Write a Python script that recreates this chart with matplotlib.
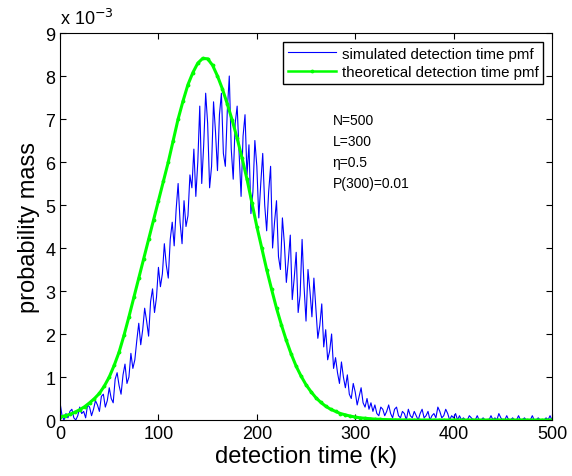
import numpy as np
from matplotlib import pyplot as plt
from matplotlib.ticker import FuncFormatter

plt.rcParams['font.family'] = ['Liberation Sans', 'DejaVu Sans']

# simulated pmf, every 2 k (units of 1e-3)
simK = np.arange(0, 501, 2)
simVal = [
    0.40, 0.10, 0.00, 0.15, 0.05, 0.20, 0.25, 0.05, 0.00, 0.10,
    0.30, 0.15, 0.20, 0.05, 0.35, 0.30, 0.10, 0.25, 0.45, 0.35,
    0.20, 0.55, 0.60, 0.30, 0.45, 0.75, 0.50, 0.40, 0.95, 1.10,
    0.80, 0.60, 1.05, 1.30, 0.85, 1.00, 1.55, 1.20, 1.40, 1.85,
    2.25, 1.75, 2.10, 2.60, 2.30, 1.95, 2.75, 3.05, 2.50, 2.85,
    3.55, 3.10, 3.40, 4.10, 3.60, 3.30, 4.20, 4.60, 4.05, 4.90,
    5.50, 4.60, 4.10, 5.10, 4.50, 4.75, 5.70, 5.40, 6.30, 5.20,
    6.00, 7.30, 5.50, 6.40, 7.60, 6.90, 5.40, 5.90, 7.40, 6.70,
    5.80, 7.10, 7.60, 6.20, 5.90, 7.20, 8.00, 6.30, 5.60, 6.90,
    7.30, 6.20, 5.20, 6.60, 7.10, 5.70, 6.40, 4.80, 5.30, 6.50,
    5.90, 4.70, 5.50, 6.20, 5.00, 4.40, 5.30, 5.90, 4.00, 4.60,
    5.10, 3.80, 3.50, 4.70, 4.10, 3.20, 3.70, 4.30, 2.80, 3.30,
    3.90, 2.50, 2.90, 4.20, 3.10, 2.30, 3.50, 3.00, 2.40, 3.30,
    2.60, 1.90, 2.20, 2.70, 1.70, 2.10, 1.40, 1.60, 2.00, 1.20,
    1.45, 1.10, 0.85, 1.35, 1.00, 0.75, 1.05, 0.60, 0.50, 0.85,
    0.65, 0.35, 0.55, 0.75, 0.40, 0.30, 0.50, 0.25, 0.40, 0.20,
    0.35, 0.15, 0.10, 0.30, 0.25, 0.10, 0.20, 0.35, 0.15, 0.05,
    0.25, 0.30, 0.10, 0.05, 0.20, 0.15, 0.00, 0.25, 0.10, 0.05,
    0.20, 0.10, 0.00, 0.15, 0.25, 0.05, 0.10, 0.20, 0.00, 0.10,
    0.15, 0.05, 0.30, 0.20, 0.05, 0.10, 0.25, 0.15, 0.00, 0.10,
    0.05, 0.15, 0.00, 0.10, 0.00, 0.05, 0.00, 0.00, 0.10, 0.05,
    0.00, 0.00, 0.10, 0.00, 0.00, 0.05, 0.00, 0.00, 0.00, 0.10,
    0.00, 0.05, 0.00, 0.15, 0.05, 0.00, 0.00, 0.10, 0.00, 0.00,
    0.05, 0.00, 0.00, 0.10, 0.00, 0.00, 0.05, 0.00, 0.00, 0.00,
    0.10, 0.00, 0.00, 0.05, 0.00, 0.00, 0.00, 0.05, 0.00, 0.10,
    0.00,
]

# theoretical pmf, every 5 k (units of 1e-3)
theoK = np.arange(0, 501, 5)
theoVal = [
    0.07, 0.10, 0.13, 0.18, 0.24, 0.31, 0.40, 0.50, 0.62, 0.79,
    1.00, 1.27, 1.58, 1.97, 2.40, 2.85, 3.30, 3.75, 4.20, 4.65,
    5.10, 5.55, 6.00, 6.50, 7.00, 7.42, 7.80, 8.08, 8.30, 8.41,
    8.40, 8.25, 8.00, 7.70, 7.35, 6.97, 6.55, 6.09, 5.60, 5.05,
    4.50, 4.00, 3.50, 3.04, 2.60, 2.21, 1.85, 1.53, 1.25, 1.02,
    0.82, 0.66, 0.52, 0.41, 0.32, 0.25, 0.20, 0.15, 0.12, 0.09,
    0.07, 0.05, 0.04, 0.03, 0.02, 0.015, 0.01, 0.007, 0.005, 0.003,
    0.0, 0.0, 0.0, 0.0, 0.0, 0.0, 0.0, 0.0, 0.0, 0.0,
    0.0, 0.0, 0.0, 0.0, 0.0, 0.0, 0.0, 0.0, 0.0, 0.0,
    0.0, 0.0, 0.0, 0.0, 0.0, 0.0, 0.0, 0.0, 0.0, 0.0,
    0.0,
]

params = ["N=500", "L=300", "\u03b7=0.5", "P(300)=0.01"]

fig = plt.figure(figsize=(5.72, 4.77), dpi=100)
ax = fig.add_axes([0.105, 0.1174, 0.86, 0.8113])

ax.plot(simK, np.array(simVal) * 1e-3, c=(0, 0, 1), lw=0.8,
        label="simulated detection time pmf")
ax.plot(theoK, np.array(theoVal) * 1e-3, c=(0, 1, 0), lw=2.2,
        marker='.', markersize=3.5, label="theoretical detection time pmf")

ax.set_xlim(0, 500)
ax.set_ylim(0, 9e-3)
ax.set_xticks(np.arange(0, 501, 100))
ax.set_yticks(np.arange(0, 10) * 1e-3)
ax.yaxis.set_major_formatter(FuncFormatter(lambda v, p: "%d" % round(v / 1e-3)))
ax.tick_params(direction='in', top=True, right=True, labelsize=13, length=4)
ax.text(0.0, 1.012, "x 10$^{-3}$", transform=ax.transAxes, fontsize=13,
        ha='left', va='bottom')

ax.set_xlabel("detection time (k)", fontsize=17, labelpad=2)
ax.set_ylabel("probability mass", fontsize=17, labelpad=4)

for i, s in enumerate(params):
    ax.text(277, 6.98e-3 - i * 0.49e-3, s, fontsize=10, va='center')

leg = ax.legend(loc='upper right', fontsize=10.8, fancybox=False,
                edgecolor='black', framealpha=1, borderaxespad=0.6,
                handlelength=3.2, handletextpad=0.4, numpoints=1,
                borderpad=0.3, labelspacing=0.3)
leg.get_frame().set_linewidth(1.0)
leg.get_lines()[1].set_linewidth(1.8)

plt.savefig("out.png", dpi=100)
